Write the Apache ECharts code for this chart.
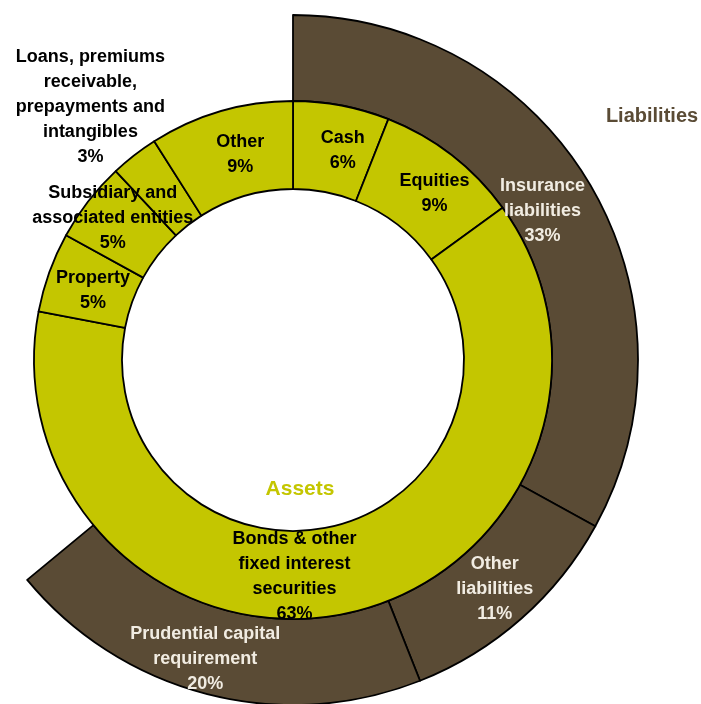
<!DOCTYPE html>
<html>
<head>
<meta charset="utf-8">
<script src="https://cdn.jsdelivr.net/npm/echarts@6/dist/echarts.min.js"></script>
<style>
  html, body { margin: 0; padding: 0; background: #ffffff; }
  #chart { width: 701px; height: 704px; }
</style>
</head>
<body>
<div id="chart"></div>
<script>
// Balance sheet composition: assets (inner ring) and liabilities (outer partial ring), in %
const assetNames = [
  'Cash',
  'Equities',
  'Bonds & other\nfixed interest\nsecurities',
  'Property',
  'Subsidiary and\nassociated entities',
  'Loans, premiums\nreceivable,\nprepayments and\nintangibles',
  'Other'
];
const assetValues = [6, 9, 63, 5, 5, 3, 9];

const liabilityNames = [
  'Insurance\nliabilities',
  'Other\nliabilities',
  'Prudential capital\nrequirement'
];
const liabilityValues = [33, 11, 20];

const ringTitles = ['Assets', 'Liabilities'];

// label nudges (px) relative to each slice's default inside position
const assetLabelOffsets = [[9, 5], [8, 6], [-46, 4], [5, 4], [-8, -8], [-69, -81], [8, 4]];
const liabilityLabelOffsets = [[-13, 6], [0, 0], [-12, 4]];

const FONT = '"Liberation Sans", Arial, sans-serif';
const OLIVE = '#c4c600';
const BROWN = '#5a4b35';
const LIGHT = '#f1ece2';

const chart = echarts.init(document.getElementById('chart'), null, { renderer: 'canvas' });

const assetData = assetNames.map((n, i) => ({
  name: n,
  value: assetValues[i],
  label: { offset: assetLabelOffsets[i] }
}));

const liabilityTotal = liabilityValues.reduce((a, b) => a + b, 0);
const liabilityData = liabilityNames.map((n, i) => ({
  name: n,
  value: liabilityValues[i],
  label: { offset: liabilityLabelOffsets[i] }
}));
// remainder of the circle is left empty
liabilityData.push({
  name: '',
  value: 100 - liabilityTotal,
  itemStyle: { color: 'rgba(0,0,0,0)', borderWidth: 0 },
  label: { show: false },
  emphasis: { disabled: true },
  silent: true
});

const center = [293, 360];

const labelBase = {
  show: true,
  position: 'inside',
  formatter: p => p.name + '\n' + p.value + '%',
  fontFamily: FONT,
  fontWeight: 'bold',
  fontSize: 18,
  lineHeight: 25,
  align: 'center'
};

chart.setOption({
  animation: false,
  title: [
    {
      text: ringTitles[0],
      left: 295, top: 484, textAlign: 'center', textVerticalAlign: 'middle',
      textStyle: { color: OLIVE, fontFamily: FONT, fontWeight: 'bold', fontSize: 21 }
    },
    {
      text: ringTitles[1],
      left: 647, top: 111, textAlign: 'center', textVerticalAlign: 'middle',
      textStyle: { color: BROWN, fontFamily: FONT, fontWeight: 'bold', fontSize: 20 }
    }
  ],
  series: [
    {
      type: 'pie',
      center: center,
      radius: [259, 345],
      startAngle: 90,
      clockwise: true,
      avoidLabelOverlap: false,
      silent: true,
      itemStyle: { color: BROWN, borderColor: '#000', borderWidth: 1.8 },
      label: Object.assign({}, labelBase, { color: LIGHT }),
      labelLine: { show: false },
      labelLayout: { hideOverlap: false },
      data: liabilityData
    },
    {
      type: 'pie',
      center: center,
      radius: [171, 259],
      startAngle: 90,
      clockwise: true,
      avoidLabelOverlap: false,
      silent: true,
      itemStyle: { color: OLIVE, borderColor: '#000', borderWidth: 1.8 },
      label: Object.assign({}, labelBase, { color: '#000' }),
      labelLine: { show: false },
      labelLayout: { hideOverlap: false },
      data: assetData
    }
  ]
});
</script>
</body>
</html>
